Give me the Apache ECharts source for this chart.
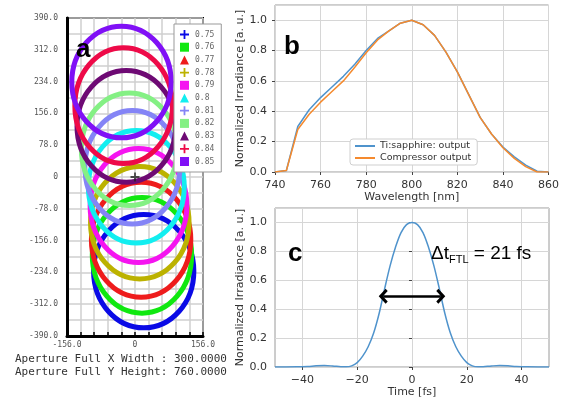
<!DOCTYPE html>
<html>
<head>
<meta charset="utf-8">
<script src="https://cdn.jsdelivr.net/npm/echarts@6/dist/echarts.min.js"></script>
<style>
  html, body { margin: 0; padding: 0; background: #fff; }
  #container { width: 562px; height: 399px; }
</style>
</head>
<body>
<div id="container"></div>
<script>
// ---- panel a: spot ellipses per field value ----
const fieldNames = ['0.75', '0.76', '0.77', '0.78', '0.79', '0.8', '0.81', '0.82', '0.83', '0.84', '0.85']
const ellipseCx = [20, 16, 14, 11, 8, 3, -6, -13, -20, -26, -31]
const ellipseCy = [-231, -192, -154, -112, -70, -24, 24, 68, 124, 175, 233]
const ellipseRx = [115, 114, 114, 113, 111, 110, 109, 110, 113, 112, 114]
const ellipseRy = [139, 142, 141, 138, 140, 138, 139, 138, 137, 142, 137]
const ellipseColors = ['#0a0ae6', '#10e810', '#ee1c1c', '#bcb200', '#f514f0', '#12eef0',
    '#8484f6', '#84f084', '#6e0a74', '#ee0a48', '#8010f6']
const legendIcons = ['cross', 'rect', 'triangle', 'cross', 'rect', 'triangle',
    'cross', 'rect', 'triangle', 'cross', 'rect']
const origin = [[0, 0]]

// ---- panel b: spectra ----
const wavelength = [740, 745, 750, 755, 760, 765, 770, 775, 780, 785, 790, 795, 800,
    805, 810, 815, 820, 825, 830, 835, 840, 845, 850, 855, 860]
const tiSapphire = [0, 0.01, 0.30, 0.41, 0.49, 0.56, 0.63, 0.71, 0.80, 0.88, 0.93, 0.98, 1.0,
    0.97, 0.90, 0.79, 0.66, 0.51, 0.36, 0.25, 0.165, 0.10, 0.045, 0.005, 0]
const compressor = [0, 0.01, 0.28, 0.38, 0.46, 0.53, 0.60, 0.69, 0.785, 0.87, 0.93, 0.98, 1.0,
    0.97, 0.90, 0.79, 0.66, 0.51, 0.36, 0.25, 0.16, 0.09, 0.035, 0.0, 0]

// ---- panel c: transform-limited pulse ----
const time = [-50, -46, -42, -38, -35, -32, -29, -26, -24, -22, -20, -18, -16, -14, -12, -10, -8, -6, -4, -2,
    0, 2, 4, 6, 8, 10, 12, 14, 16, 18, 20, 22, 24, 26, 29, 32, 35, 38, 42, 46, 50]
const pulse = [0, 0, 0.001, 0.004, 0.008, 0.01, 0.007, 0.002, 0.001, 0.008, 0.03, 0.075, 0.14, 0.235, 0.37, 0.54, 0.70, 0.83, 0.93, 0.985,
    1.0, 0.985, 0.93, 0.83, 0.70, 0.54, 0.37, 0.235, 0.14, 0.075, 0.03, 0.008, 0.001, 0.002, 0.007, 0.01, 0.008, 0.004, 0.001, 0, 0]
const fwhmArrow = [-10.5, 10.5, 0.49]
const timeTicks = [-40, -20, 0, 20, 40]

const dom = document.getElementById('container')
const myChart = echarts.init(dom)

const crossPath = 'path://M4,0H6V4H10V6H6V10H4V6H0V4H4Z'
const linePath = 'path://M0,0H20V2H0Z'
const chevron = 'path://M0,10 L10,0 L20,10 L17,13 L10,6 L3,13 Z'
const sans = 'DejaVu Sans'
const mono = 'DejaVu Sans Mono'

const ellipseSeries = fieldNames.map((name, i) => ({
    name: name,
    type: 'custom',
    xAxisIndex: 0,
    yAxisIndex: 0,
    itemStyle: { color: ellipseColors[i] },
    clip: true,
    data: [[ellipseCx[i], ellipseCy[i], ellipseRx[i], ellipseRy[i]]],
    renderItem: (params, api) => {
        const c = api.coord([api.value(0), api.value(1)])
        const s = api.size([api.value(2), api.value(3)])
        return {
            type: 'ellipse',
            shape: { cx: c[0], cy: c[1], rx: s[0], ry: s[1] },
            style: { fill: 'none', stroke: ellipseColors[i], lineWidth: 5 }
        }
    }
}))

const valueAxisStyle = {
    axisLine: { show: false },
    axisTick: { show: true, length: 3, lineStyle: { color: '#444' } },
    axisLabel: { color: '#333', fontSize: 11, fontFamily: sans },
    splitLine: { show: true, lineStyle: { color: '#d6d6d6', width: 1 } }
}

const option = {
    animation: false,
    backgroundColor: '#fff',
    grid: [
        { left: 67, top: 18, width: 136, height: 318, show: true, borderColor: '#000', borderWidth: 2 },
        { left: 275, top: 5, width: 274, height: 167, show: true, borderColor: '#9a9a9a', borderWidth: 1 },
        { left: 275, top: 208, width: 274, height: 159, show: true, borderColor: '#9a9a9a', borderWidth: 1 }
    ],
    legend: [
        {
            data: fieldNames.map((n, i) => ({
                name: n,
                icon: legendIcons[i] === 'cross' ? crossPath : legendIcons[i]
            })),
            orient: 'vertical',
            left: 174,
            top: 24,
            itemWidth: 9,
            itemHeight: 9,
            itemGap: 3.7,
            padding: [6, 7, 6, 6],
            backgroundColor: '#fff',
            borderColor: '#999',
            borderWidth: 1,
            selectedMode: false,
            textStyle: { fontFamily: mono, fontSize: 8, color: '#666', padding: [0, 0, 0, 1] }
        },
        {
            data: [
                { name: 'Ti:sapphire: output', icon: linePath },
                { name: 'Compressor output', icon: linePath }
            ],
            orient: 'vertical',
            left: 350,
            top: 139,
            itemWidth: 20,
            itemHeight: 2,
            itemGap: 2,
            padding: [2, 6, 2, 5],
            backgroundColor: '#fff',
            borderColor: '#cfcfcf',
            borderWidth: 1,
            borderRadius: 3,
            selectedMode: false,
            textStyle: { fontFamily: sans, fontSize: 9.5, color: '#333' }
        }
    ],
    xAxis: [
        {
            gridIndex: 0,
            type: 'value',
            min: -156,
            max: 156,
            interval: 31.2,
            axisLine: { show: true, onZero: false, lineStyle: { color: '#000', width: 3 } },
            axisTick: { show: true, length: 4, inside: true, lineStyle: { color: '#000', width: 1.5 } },
            axisLabel: {
                fontFamily: mono,
                fontSize: 8,
                color: '#555',
                margin: 5,
                formatter: (v) => {
                    if (Math.abs(v) < 0.01) return '0'
                    if (Math.abs(Math.abs(v) - 156) < 0.01) return v.toFixed(1)
                    return ''
                }
            },
            splitLine: { show: true, lineStyle: { color: '#cfcfcf', width: 1.5 } }
        },
        {
            gridIndex: 1,
            type: 'value',
            min: 740,
            max: 860,
            interval: 20,
            name: 'Wavelength [nm]',
            nameLocation: 'middle',
            nameGap: 14,
            nameTextStyle: { fontFamily: sans, fontSize: 11, color: '#333' },
            ...valueAxisStyle
        },
        {
            gridIndex: 2,
            type: 'value',
            min: -50,
            max: 50,
            name: 'Time [fs]',
            nameLocation: 'middle',
            nameGap: 14,
            nameTextStyle: { fontFamily: sans, fontSize: 11, color: '#333' },
            ...valueAxisStyle,
            axisTick: { show: true, length: 3, customValues: timeTicks, lineStyle: { color: '#444' } },
            axisLabel: {
                color: '#333', fontSize: 11, fontFamily: sans, customValues: timeTicks,
                formatter: (v) => (v < 0 ? '\u2212' + Math.abs(v) : String(v))
            }
        }
    ],
    yAxis: [
        {
            gridIndex: 0,
            type: 'value',
            min: -390,
            max: 390,
            interval: 39,
            axisLine: { show: true, onZero: false, lineStyle: { color: '#000', width: 3 } },
            axisTick: { show: false },
            axisLabel: {
                fontFamily: mono,
                fontSize: 8,
                color: '#555',
                margin: 9,
                formatter: (v) => {
                    const k = Math.round(v / 39)
                    if (k % 2 !== 0) return ''
                    return k === 0 ? '0' : v.toFixed(1)
                }
            },
            splitLine: { show: true, lineStyle: { color: '#cfcfcf', width: 1.5 } }
        },
        {
            gridIndex: 1,
            type: 'value',
            min: 0,
            max: 1.1,
            interval: 0.2,
            name: 'Normalized Irradiance [a. u.]',
            nameLocation: 'middle',
            nameGap: 25,
            nameTextStyle: { fontFamily: sans, fontSize: 11, color: '#333' },
            ...valueAxisStyle,
            axisLabel: {
                color: '#333', fontSize: 11, fontFamily: sans, showMaxLabel: false,
                formatter: (v) => (v > 1.05 ? '' : v.toFixed(1))
            }
        },
        {
            gridIndex: 2,
            type: 'value',
            min: 0,
            max: 1.1,
            interval: 0.2,
            name: 'Normalized Irradiance [a. u.]',
            nameLocation: 'middle',
            nameGap: 25,
            nameTextStyle: { fontFamily: sans, fontSize: 11, color: '#333' },
            ...valueAxisStyle,
            axisLabel: {
                color: '#333', fontSize: 11, fontFamily: sans, showMaxLabel: false,
                formatter: (v) => (v > 1.05 ? '' : v.toFixed(1))
            }
        }
    ],
    series: [
        ...ellipseSeries,
        {
            name: 'origin',
            type: 'scatter',
            xAxisIndex: 0,
            yAxisIndex: 0,
            symbol: crossPath,
            symbolSize: 9,
            itemStyle: { color: '#222' },
            z: 5,
            data: origin
        },
        {
            name: 'Ti:sapphire: output',
            type: 'line',
            xAxisIndex: 1,
            yAxisIndex: 1,
            symbol: 'none',
            color: '#4f93cc',
            lineStyle: { width: 1.5 },
            data: wavelength.map((w, i) => [w, tiSapphire[i]])
        },
        {
            name: 'Compressor output',
            type: 'line',
            xAxisIndex: 1,
            yAxisIndex: 1,
            symbol: 'none',
            color: '#f58a2e',
            lineStyle: { width: 1.5 },
            data: wavelength.map((w, i) => [w, compressor[i]])
        },
        {
            name: 'pulse',
            type: 'line',
            xAxisIndex: 2,
            yAxisIndex: 2,
            symbol: 'none',
            smooth: 0.35,
            color: '#4f93cc',
            lineStyle: { width: 1.5 },
            data: time.map((t, i) => [t, pulse[i]]),
            markLine: {
                silent: true,
                symbol: [chevron, chevron],
                symbolSize: [15, 9],
                label: { show: false },
                lineStyle: { color: '#000', width: 2.5, type: 'solid' },
                data: [[
                    { coord: [fwhmArrow[0], fwhmArrow[2]] },
                    { coord: [fwhmArrow[1], fwhmArrow[2]] }
                ]]
            }
        }
    ],
    graphic: [
        { type: 'text', z: 100, left: 76, top: 37, style: { text: 'a', font: 'bold 26px "Liberation Sans"', fill: '#000' } },
        { type: 'text', z: 100, left: 284, top: 34, style: { text: 'b', font: 'bold 26px "Liberation Sans"', fill: '#000' } },
        { type: 'text', z: 100, left: 288, top: 241, style: { text: 'c', font: 'bold 26px "Liberation Sans"', fill: '#000' } },
        {
            type: 'text', z: 100, left: 431, top: 244,
            style: {
                text: '{a|\u0394t}{s|FTL}{a| = 21 fs}',
                rich: {
                    a: { fontFamily: 'Liberation Sans', fontSize: 19, fill: '#000', verticalAlign: 'bottom' },
                    s: { fontFamily: 'Liberation Sans', fontSize: 11, fill: '#000', verticalAlign: 'bottom', padding: [0, 0, -2, 0] }
                }
            }
        },
        {
            type: 'text', left: 15, top: 354,
            style: { text: 'Aperture Full X Width : 300.0000', font: '11px "DejaVu Sans Mono"', fill: '#333' }
        },
        {
            type: 'text', left: 15, top: 367,
            style: { text: 'Aperture Full Y Height: 760.0000', font: '11px "DejaVu Sans Mono"', fill: '#333' }
        }
    ]
}

myChart.setOption(option)
</script>
</body>
</html>
